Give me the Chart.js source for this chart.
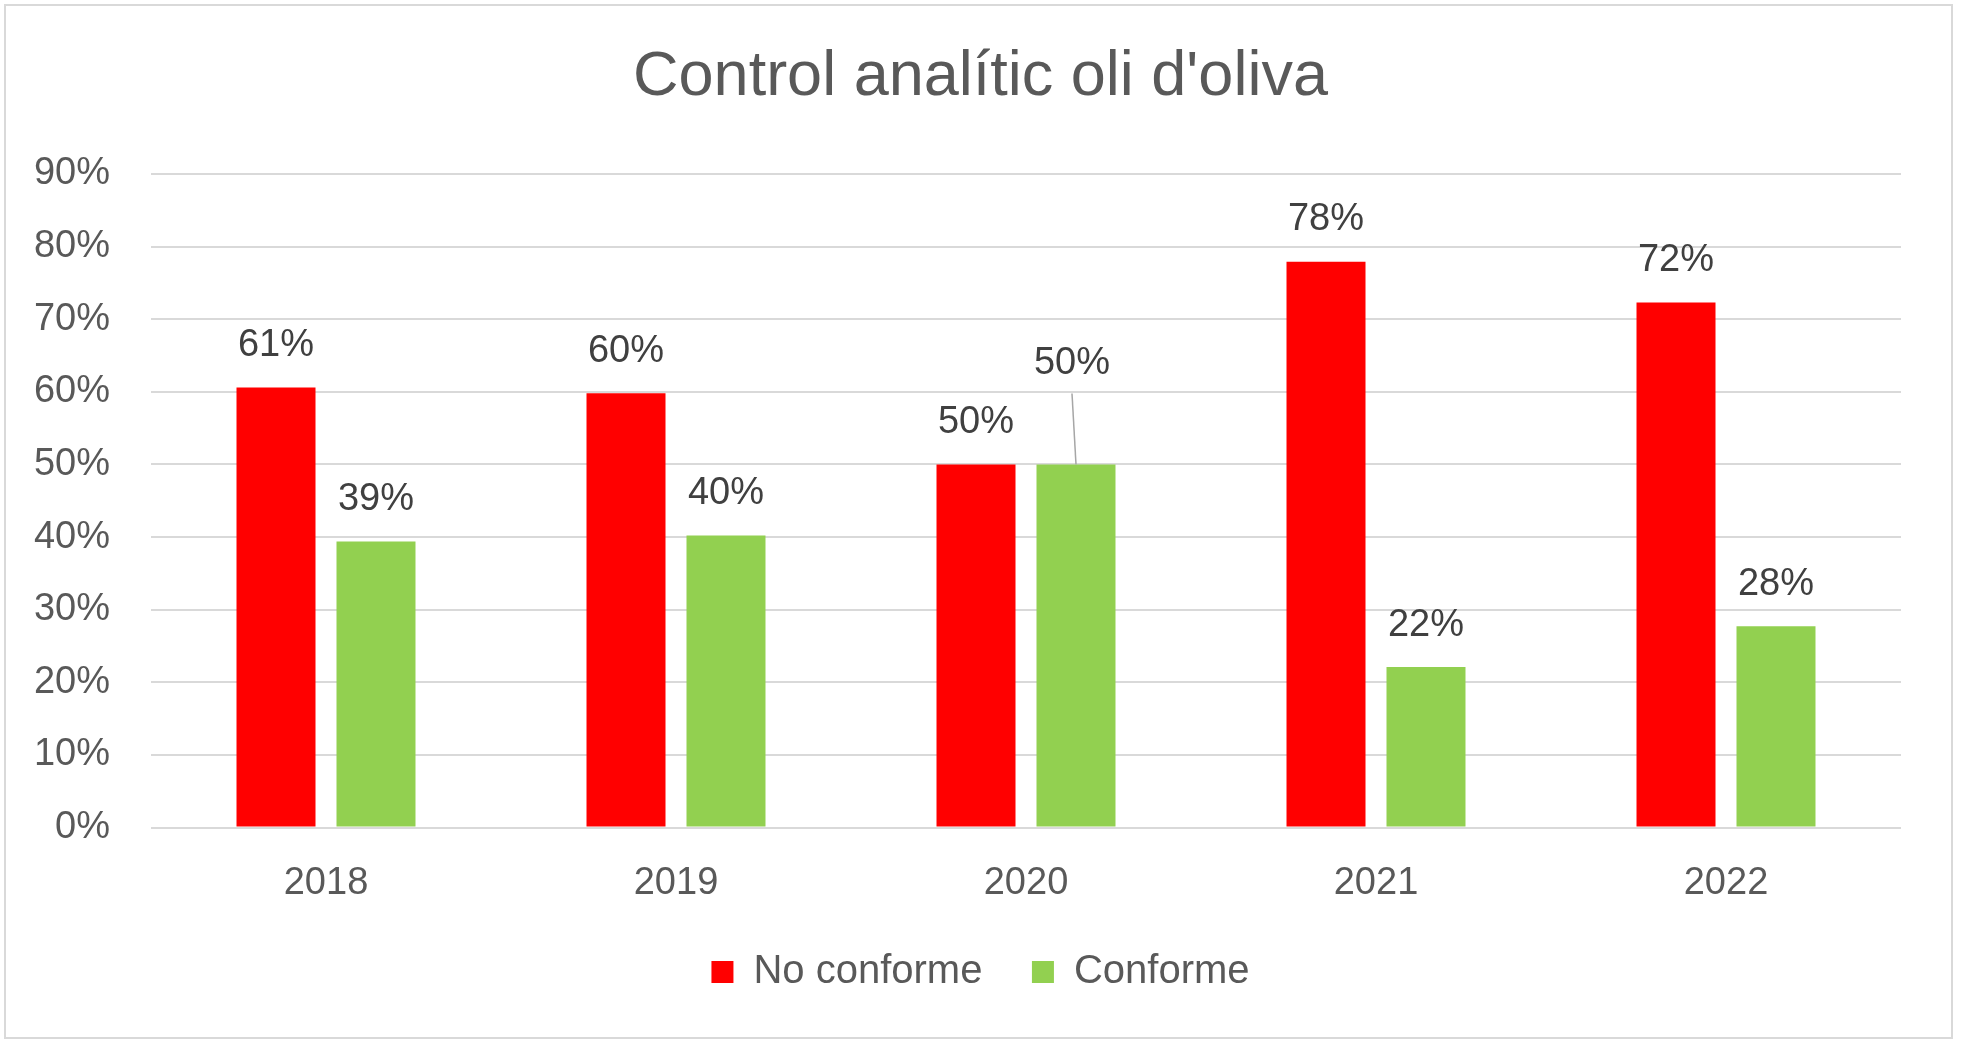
<!DOCTYPE html>
<html>
<head>
<meta charset="utf-8">
<title>Control analític oli d'oliva</title>
<script src="https://cdn.jsdelivr.net/npm/chart.js@4/dist/chart.umd.min.js"></script>
<style>
    html, body { margin: 0; padding: 0; background: #ffffff; }
    #wrap { position: relative; width: 1961px; height: 1045px; }
</style>
</head>
<body>
<div id="wrap"><canvas id="chart" width="1961" height="1045"></canvas></div>
<script>
// Chart data (percentages)
const years = ['2018', '2019', '2020', '2021', '2022'];
const seriesNames = ['No conforme', 'Conforme'];
const noConforme = [60.6, 59.8, 50, 77.9, 72.3];
const conforme = [39.4, 40.2, 50, 22.1, 27.7];
const yTicks = [0, 10, 20, 30, 40, 50, 60, 70, 80, 90];

const FONT = '"Liberation Sans", Arial, sans-serif';
const GRID = '#D9D9D9';

// white background + light frame round the chart
const framePlugin = {
    id: 'frame',
    beforeDraw(chart) {
        const ctx = chart.ctx;
        ctx.save();
        ctx.fillStyle = '#ffffff';
        ctx.fillRect(0, 0, chart.width, chart.height);
        ctx.strokeStyle = GRID;
        ctx.lineWidth = 2;
        ctx.strokeRect(5, 5, 1947, 1033);
        ctx.restore();
    }
};

// value labels above the bars (the 2020 "Conforme" one is lifted with a leader line)
const valueLabels = {
    id: 'valueLabels',
    afterDatasetsDraw(chart) {
        const ctx = chart.ctx;
        ctx.save();
        ctx.font = '38px ' + FONT;
        ctx.fillStyle = '#404040';
        ctx.textAlign = 'center';
        ctx.textBaseline = 'alphabetic';
        chart.data.datasets.forEach((ds, di) => {
            chart.getDatasetMeta(di).data.forEach((bar, i) => {
                const text = Math.round(ds.data[i]) + '%';
                if (di === 1 && i === 2) {
                    const lx = bar.x - 4;
                    const ly = bar.y - 90;
                    ctx.strokeStyle = '#A6A6A6';
                    ctx.lineWidth = 1.5;
                    ctx.beginPath();
                    ctx.moveTo(lx, ly + 19);
                    ctx.lineTo(bar.x, bar.y);
                    ctx.stroke();
                    ctx.fillText(text, lx, ly);
                } else {
                    ctx.fillText(text, bar.x, bar.y - 31.5);
                }
            });
        });
        ctx.restore();
    }
};

const ctx = document.getElementById('chart').getContext('2d');
new Chart(ctx, {
    type: 'bar',
    data: {
        labels: years,
        datasets: [{
            label: seriesNames[0],
            data: noConforme,
            backgroundColor: '#FF0000',
            borderWidth: 0
        }, {
            label: seriesNames[1],
            data: conforme,
            backgroundColor: '#92D050',
            borderWidth: 0
        }]
    },
    options: {
        responsive: false,
        devicePixelRatio: 1,
        animation: false,
        categoryPercentage: 0.5714,
        barPercentage: 0.79,
        layout: {
            padding: { left: 0, right: 0, top: 0, bottom: 43 }
        },
        plugins: {
            title: {
                display: true,
                text: "Control analític oli d'oliva",
                color: '#595959',
                font: { family: FONT, size: 63, weight: 'normal' },
                padding: { top: 40.2, bottom: 58.2 }
            },
            legend: {
                position: 'bottom',
                labels: {
                    color: '#595959',
                    font: { family: FONT, size: 40 },
                    boxWidth: 22,
                    boxHeight: 22,
                    padding: 49.5
                }
            },
            tooltip: { enabled: false }
        },
        scales: {
            x: {
                afterFit: function(scale) {
                    scale.height = 75;
                },
                grid: { display: false, drawTicks: false },
                border: { display: false },
                ticks: {
                    color: '#595959',
                    font: { family: FONT, size: 38 },
                    padding: 33,
                    maxRotation: 0
                }
            },
            y: {
                min: 0,
                max: 90,
                afterFit: function(scale) {
                    scale.width = 151;
                },
                afterBuildTicks: function(scale) {
                    scale.ticks = yTicks.map(v => ({ value: v }));
                },
                grid: {
                    color: GRID,
                    lineWidth: 2,
                    drawTicks: false
                },
                border: { display: false },
                ticks: {
                    color: '#595959',
                    font: { family: FONT, size: 38 },
                    padding: 41,
                    callback: function(value) {
                        return value + '%';
                    }
                }
            },
            // empty right-hand axis, only keeps the plot's right margin
            yRight: {
                type: 'linear',
                position: 'right',
                afterFit: function(scale) {
                    scale.width = 60;
                },
                grid: { display: false, drawTicks: false },
                border: { display: false },
                ticks: { display: false }
            }
        }
    },
    plugins: [framePlugin, valueLabels]
});
</script>
</body>
</html>
